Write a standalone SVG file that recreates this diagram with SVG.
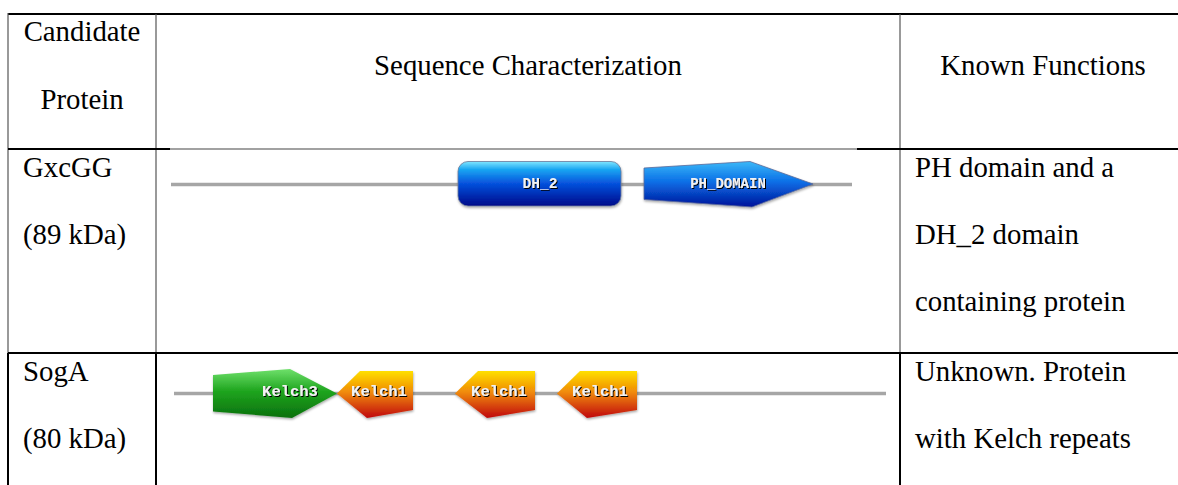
<svg xmlns="http://www.w3.org/2000/svg" width="1178" height="485" viewBox="0 0 1178 485">
  <style>
    .t { font-family: "Liberation Serif", "Times New Roman", serif; font-size: 28.8px; fill: #000; }
    .c { text-anchor: middle; }
    .lab { font-family: "Liberation Mono", "DejaVu Sans Mono", monospace; font-weight: bold; fill: #f2f2f2; text-anchor: middle; dominant-baseline: central; filter: url(#sh); }
    .bb { stroke: #a6a6a6; stroke-width: 3.5; fill: none; }
    .thick { stroke: #000; stroke-width: 2; }
    .thin { stroke: #555; stroke-width: 1.2; }
  </style>
  <defs>
    <linearGradient id="gBlue" x1="0" y1="0" x2="0" y2="1">
      <stop offset="0" stop-color="#7fe6ff"/>
      <stop offset="0.18" stop-color="#19a6f2"/>
      <stop offset="0.5" stop-color="#0650dc"/>
      <stop offset="1" stop-color="#020a8a"/>
    </linearGradient>
    <linearGradient id="gBlue2" x1="0" y1="0" x2="0" y2="1">
      <stop offset="0" stop-color="#3ab8f8"/>
      <stop offset="0.45" stop-color="#0a6ee6"/>
      <stop offset="1" stop-color="#02129a"/>
    </linearGradient>
    <linearGradient id="gGreen" x1="0" y1="0" x2="0" y2="1">
      <stop offset="0" stop-color="#6ee06a"/>
      <stop offset="0.45" stop-color="#1fa51f"/>
      <stop offset="1" stop-color="#0a700c"/>
    </linearGradient>
    <linearGradient id="gOrange" x1="0" y1="0" x2="0" y2="1">
      <stop offset="0" stop-color="#ffe000"/>
      <stop offset="0.45" stop-color="#f08a08"/>
      <stop offset="1" stop-color="#c00808"/>
    </linearGradient>
    <filter id="sh" x="-20%" y="-40%" width="140%" height="180%">
      <feDropShadow dx="1" dy="1" stdDeviation="0.3" flood-color="#000" flood-opacity="1"/>
    </filter>
    <filter id="dsh" x="-10%" y="-20%" width="120%" height="150%">
      <feDropShadow dx="0.5" dy="1.5" stdDeviation="1" flood-color="#000" flood-opacity="0.35"/>
    </filter>
  </defs>

  <g id="table-grid">
    <line class="thick" x1="8" y1="14" x2="1178" y2="14"/>
    <line class="thin" x1="8" y1="13" x2="8" y2="353"/>
    <line class="thick" x1="8" y1="353" x2="8" y2="485"/>
    <line class="thin" x1="156" y1="14" x2="156" y2="353"/>
    <line class="thick" x1="156" y1="353" x2="156" y2="485"/>
    <line class="thin" x1="900" y1="14" x2="900" y2="353"/>
    <line class="thick" x1="900" y1="353" x2="900" y2="485"/>
    <line class="thick" x1="8" y1="149" x2="170" y2="149"/>
    <line stroke="#444" stroke-width="1.2" x1="170" y1="149" x2="857" y2="149"/>
    <line class="thick" x1="857" y1="149" x2="1178" y2="149"/>
    <line class="thick" x1="8" y1="353" x2="1178" y2="353"/>
  </g>

  <g id="header">
    <text class="t c" x="82" y="41">Candidate</text>
    <text class="t c" x="82" y="109">Protein</text>
    <text class="t c" x="528" y="75">Sequence Characterization</text>
    <text class="t c" x="1043" y="75">Known Functions</text>
  </g>

  <g id="row-gxcgg">
    <text class="t" x="23" y="177">GxcGG</text>
    <text class="t" x="23" y="244">(89 kDa)</text>
    <text class="t" x="915" y="177">PH domain and a</text>
    <text class="t" x="915" y="244">DH_2 domain</text>
    <text class="t" x="915" y="311">containing protein</text>
  </g>

  <g id="connectors">
    <line id="backbone-gxcgg" class="bb" x1="171" y1="184.5" x2="852" y2="184.5"/>
    <line id="backbone-soga" class="bb" x1="174" y1="393.5" x2="886" y2="393.5"/>
  </g>

  <g id="domain-dh2">
    <rect x="458" y="161.5" width="163" height="44.5" rx="10" fill="url(#gBlue)" stroke="#6a7a9a" stroke-width="0.8" filter="url(#dsh)"/>
    <text class="lab" x="540" y="183.5" font-size="14.5">DH_2</text>
  </g>

  <g id="domain-ph">
    <polygon points="644,168 750,161.5 813,184 752,207 644,199.5" fill="url(#gBlue2)" stroke="#5a6a9a" stroke-width="0.8" filter="url(#dsh)"/>
    <text class="lab" x="728" y="183.5" font-size="14">PH_DOMAIN</text>
  </g>

  <g id="row-soga">
    <text class="t" x="23" y="381">SogA</text>
    <text class="t" x="23" y="448">(80 kDa)</text>
    <text class="t" x="915" y="381">Unknown. Protein</text>
    <text class="t" x="915" y="448">with Kelch repeats</text>
  </g>

  <g id="domain-kelch3">
    <polygon points="213,375 290,369 337,393.5 292,418 213,411.5" fill="url(#gGreen)" filter="url(#dsh)"/>
    <text class="lab" x="290" y="392" font-size="15.5">Kelch3</text>
  </g>

  <g id="domain-kelch1-a">
    <polygon points="337,393.5 360,371 413,371 413,410 367,418" fill="url(#gOrange)" filter="url(#dsh)"/>
    <text class="lab" x="379" y="392" font-size="15.5">Kelch1</text>
  </g>

  <g id="domain-kelch1-b">
    <polygon points="455,393.5 478,371 535,371 535,410 487,418" fill="url(#gOrange)" filter="url(#dsh)"/>
    <text class="lab" x="499" y="392" font-size="15.5">Kelch1</text>
  </g>

  <g id="domain-kelch1-c">
    <polygon points="557,393.5 580,371 637,371 637,410 587,418" fill="url(#gOrange)" filter="url(#dsh)"/>
    <text class="lab" x="600" y="392" font-size="15.5">Kelch1</text>
  </g>
</svg>
